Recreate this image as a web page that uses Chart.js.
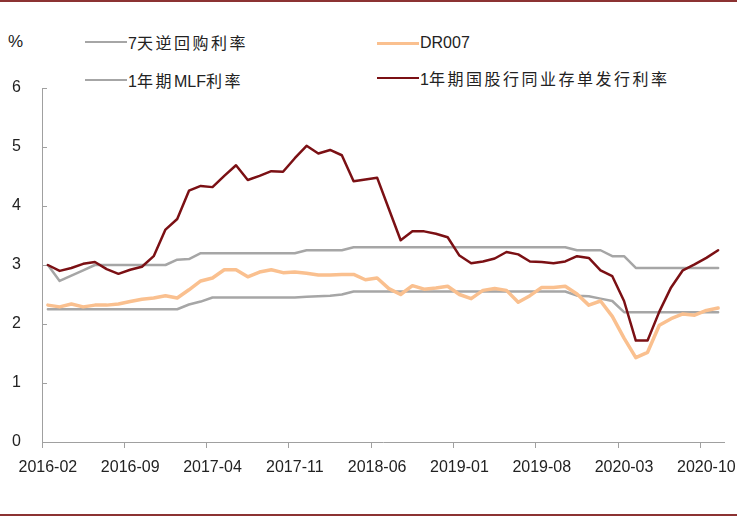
<!DOCTYPE html>
<html lang="zh-CN">
<head>
<meta charset="utf-8">
<title>政策利率与市场利率</title>
<script src="https://cdn.jsdelivr.net/npm/chart.js@4.4.1/dist/chart.umd.min.js"></script>
<style>
  html, body { margin: 0; padding: 0; background: #fff; }
  #wrap { position: relative; width: 737px; height: 518px; overflow: hidden; }
  #wrap canvas { position: absolute; left: 0; top: 0; }
  .rule { position: absolute; left: 0; width: 737px; height: 2px; background: #8c3232; }
  #unit { position: absolute; left: 8px; top: 32px; font: 17px "Liberation Sans", "Noto Sans", sans-serif; color: #222; }
  .item { position: absolute; display: flex; align-items: center; height: 22px; }
  .item i { display: block; width: 42px; margin-right: 1px; }
  .item span { font: 16px "Liberation Sans", "Noto Sans CJK SC", sans-serif; color: #222; white-space: nowrap; }
  .item span b { font-weight: normal; letter-spacing: 2.5px; }
</style>
</head>
<body>
<div id="wrap">
  <div class="rule" style="top:0"></div>
  <div class="rule" style="top:514px"></div>
  <div id="unit">%</div>
  <div id="legend"></div>
  <canvas id="rateChart" width="737" height="518"></canvas>
</div>
<script>
// months 2016-02 .. 2020-11
const months = [
  '2016-02','2016-03','2016-04','2016-05','2016-06','2016-07','2016-08','2016-09','2016-10','2016-11','2016-12',
  '2017-01','2017-02','2017-03','2017-04','2017-05','2017-06','2017-07','2017-08','2017-09','2017-10','2017-11','2017-12',
  '2018-01','2018-02','2018-03','2018-04','2018-05','2018-06','2018-07','2018-08','2018-09','2018-10','2018-11','2018-12',
  '2019-01','2019-02','2019-03','2019-04','2019-05','2019-06','2019-07','2019-08','2019-09','2019-10','2019-11','2019-12',
  '2020-01','2020-02','2020-03','2020-04','2020-05','2020-06','2020-07','2020-08','2020-09','2020-10','2020-11'
];
const xTickLabels = ['2016-02','2016-09','2017-04','2017-11','2018-06','2019-01','2019-08','2020-03','2020-10'];

const repo7d = [
  2.25, 2.25, 2.25, 2.25, 2.25, 2.25, 2.25, 2.25, 2.25, 2.25, 2.25, 2.25,
  2.33, 2.38, 2.45, 2.45, 2.45, 2.45, 2.45, 2.45, 2.45, 2.45,
  2.46, 2.47, 2.48, 2.50, 2.55,
  2.55, 2.55, 2.55, 2.55, 2.55, 2.55, 2.55, 2.55, 2.55, 2.55, 2.55, 2.55, 2.55, 2.55, 2.55, 2.55, 2.55, 2.55,
  2.48, 2.47, 2.43, 2.39, 2.20,
  2.20, 2.20, 2.20, 2.20, 2.20, 2.20, 2.20, 2.20
];
const dr007 = [
  2.32, 2.29, 2.34, 2.29, 2.32, 2.32, 2.34, 2.38, 2.42, 2.44, 2.48, 2.44,
  2.58, 2.73, 2.78, 2.92, 2.92, 2.80, 2.88, 2.92, 2.87, 2.88, 2.86, 2.83,
  2.83, 2.84, 2.84, 2.75, 2.78, 2.60, 2.50, 2.65, 2.59, 2.61, 2.64, 2.50,
  2.43, 2.57, 2.60, 2.57, 2.37, 2.48, 2.62, 2.62, 2.64, 2.51, 2.32, 2.39,
  2.13, 1.76, 1.43, 1.52, 1.98, 2.09, 2.17, 2.15, 2.23, 2.27
];
const mlf1y = [
  3.00, 2.73, 2.82, 2.91, 3.00, 3.00, 3.00, 3.00, 3.00, 3.00, 3.00,
  3.09, 3.10, 3.20, 3.20, 3.20, 3.20, 3.20, 3.20, 3.20, 3.20, 3.20,
  3.25, 3.25, 3.25, 3.25, 3.30,
  3.30, 3.30, 3.30, 3.30, 3.30, 3.30, 3.30, 3.30, 3.30, 3.30, 3.30, 3.30, 3.30, 3.30, 3.30, 3.30, 3.30, 3.30,
  3.25, 3.25, 3.25, 3.15, 3.15, 2.95,
  2.95, 2.95, 2.95, 2.95, 2.95, 2.95, 2.95
];
const ncd1y = [
  3.00, 2.90, 2.95, 3.02, 3.05, 2.93, 2.85, 2.92, 2.97, 3.15, 3.60, 3.78,
  4.26, 4.34, 4.32, 4.51, 4.69, 4.44, 4.51, 4.59, 4.58, 4.81, 5.02, 4.89,
  4.95, 4.86, 4.42, 4.45, 4.48, 3.95, 3.42, 3.57, 3.57, 3.53, 3.47, 3.16,
  3.03, 3.06, 3.11, 3.22, 3.18, 3.06, 3.05, 3.03, 3.06, 3.15, 3.12, 2.91,
  2.81, 2.39, 1.72, 1.72, 2.21, 2.62, 2.91, 3.01, 3.12, 3.25
];

const axisColor = '#a0a0a0';
const textColor = '#222';
const tickFont = { family: '"Liberation Sans", "Noto Sans", sans-serif', size: 16 };

// legend order as in the picture (row by row)
const series = [
  { label: '7天逆回购利率', data: repo7d, color: '#a6a6a6', width: 2.5, order: 3, left: 85, top: 31 },
  { label: 'DR007', data: dr007, color: '#fac08f', width: 3.5, order: 2, left: 377, top: 32 },
  { label: '1年期MLF利率', data: mlf1y, color: '#a6a6a6', width: 2.5, order: 1, left: 85, top: 69 },
  { label: '1年期国股行同业存单发行利率', data: ncd1y, color: '#7b1014', width: 2.5, order: 0, left: 377, top: 67 }
];

// html legend; chinese runs get a bit of letter spacing, latin runs none
const legendBox = document.getElementById('legend');
series.forEach(function(s) {
  const item = document.createElement('div');
  item.className = 'item';
  item.style.left = s.left + 'px';
  item.style.top = s.top + 'px';
  const line = document.createElement('i');
  line.style.height = (s.width - 0.5) + 'px';
  line.style.background = s.color;
  const txt = document.createElement('span');
  s.label.split(/([\u4e00-\u9fff]+)/).forEach(function(part) {
    if (!part) return;
    if (/[\u4e00-\u9fff]/.test(part)) {
      const b = document.createElement('b');
      b.textContent = part;
      txt.appendChild(b);
    } else {
      txt.appendChild(document.createTextNode(part));
    }
  });
  item.appendChild(line);
  item.appendChild(txt);
  legendBox.appendChild(item);
});

// short tick marks pointing into the plot on the y axis
const yInwardTicks = {
  id: 'yInwardTicks',
  beforeDatasetsDraw(chart) {
    const ctx = chart.ctx;
    const y = chart.scales.y;
    ctx.save();
    ctx.strokeStyle = axisColor;
    ctx.lineWidth = 1;
    y.ticks.forEach(function(t) {
      const py = Math.round(y.getPixelForValue(t.value)) + 0.5;
      ctx.beginPath();
      ctx.moveTo(y.right, py);
      ctx.lineTo(y.right + 5, py);
      ctx.stroke();
    });
    ctx.restore();
  }
};

new Chart(document.getElementById('rateChart'), {
  type: 'line',
  data: {
    labels: months,
    datasets: series.map(function(s) {
      return {
        label: s.label,
        data: s.data,
        borderColor: s.color,
        borderWidth: s.width,
        order: s.order,
        pointRadius: 0,
        tension: 0,
        fill: false
      };
    })
  },
  options: {
    responsive: false,
    animation: false,
    layout: { padding: { left: 0, top: 88, right: 13, bottom: 36 } },
    plugins: {
      legend: { display: false },
      tooltip: { enabled: false }
    },
    elements: { line: { borderJoinStyle: 'round', borderCapStyle: 'round' } },
    scales: {
      x: {
        offset: true,
        grid: {
          offset: true,
          drawOnChartArea: false,
          drawTicks: true,
          tickLength: 6,
          tickWidth: 1,
          tickColor: function(c) {
            return xTickLabels.includes(months[c.index]) ? axisColor : 'rgba(0,0,0,0)';
          }
        },
        border: { color: axisColor, width: 1 },
        ticks: {
          autoSkip: false,
          maxRotation: 0,
          padding: 10,
          color: textColor,
          font: tickFont,
          callback: function(value, index) {
            const m = months[index];
            return xTickLabels.includes(m) ? m : '';
          }
        },
        afterFit: function(s) {
          s.height = 40;
          s.paddingLeft = 0;
          s.paddingRight = 0;
        }
      },
      y: {
        min: 0,
        max: 6,
        grid: { drawOnChartArea: false, drawTicks: false },
        border: { color: axisColor, width: 1 },
        ticks: { stepSize: 1, padding: 21, color: textColor, font: tickFont },
        afterFit: function(s) {
          s.width = 42;
          s.paddingTop = 0;
          s.paddingBottom = 0;
        }
      }
    }
  },
  plugins: [yInwardTicks]
});
</script>
</body>
</html>
